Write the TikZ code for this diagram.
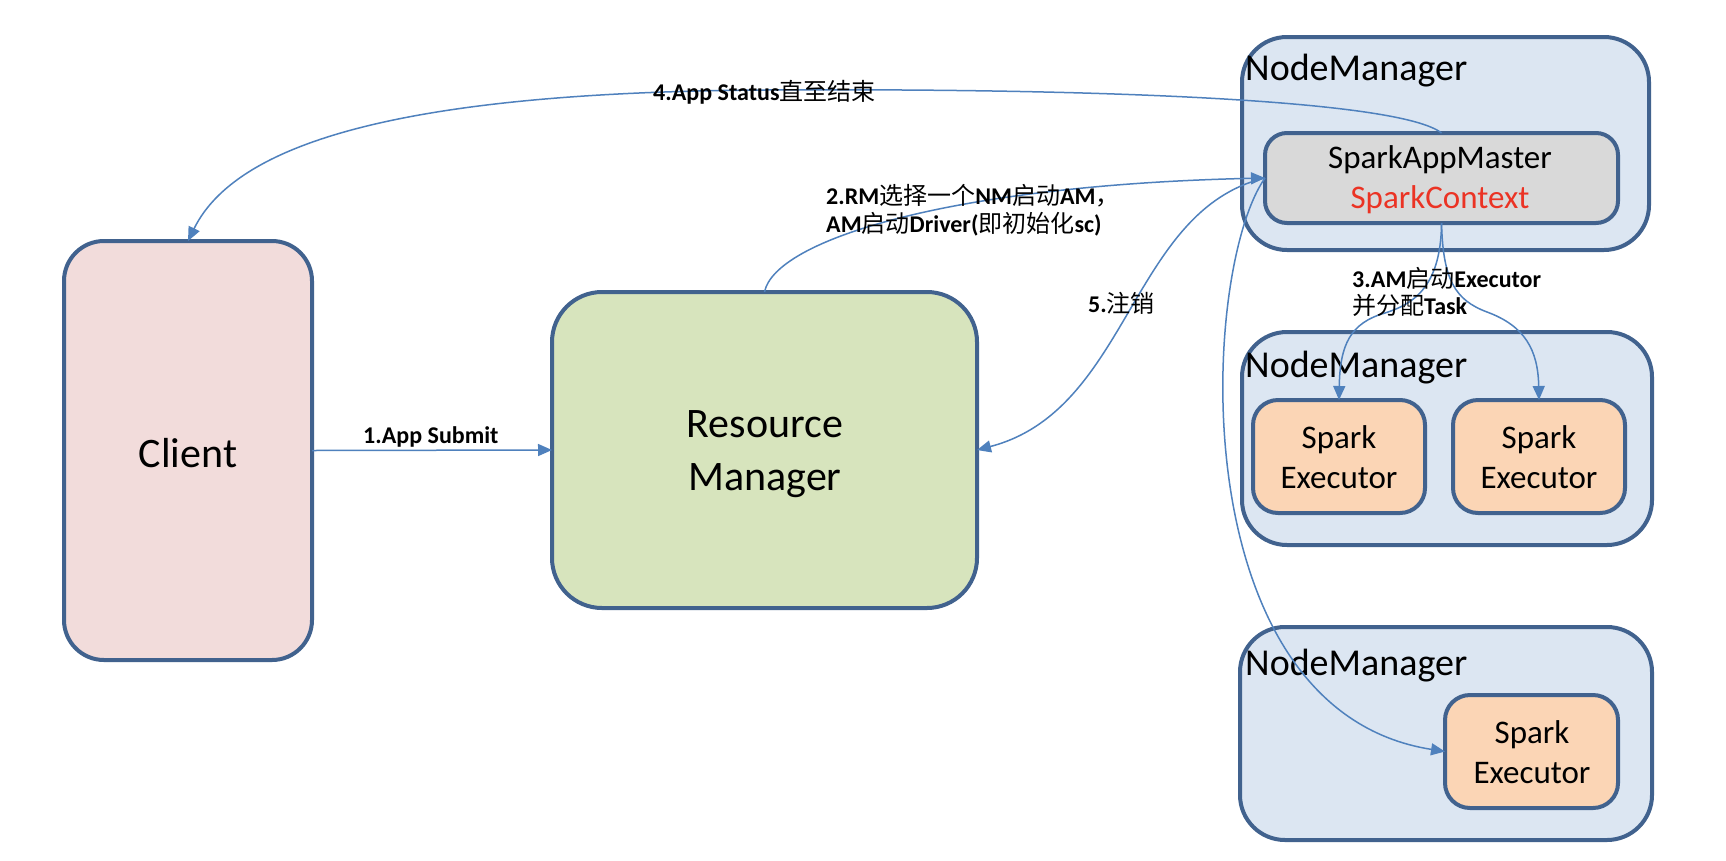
\documentclass[tikz,border=0pt]{standalone}
\usepackage{fontspec}
\setmainfont{Carlito}
\newfontfamily\cjk{Noto Sans CJK SC}
\usetikzlibrary{arrows.meta}
\definecolor{bordc}{HTML}{41628E}
\definecolor{arrc}{HTML}{4F81BD}
\definecolor{clientfill}{HTML}{F2DCDB}
\definecolor{rmfill}{HTML}{D7E4BD}
\definecolor{nmfill}{HTML}{DCE6F2}
\definecolor{samfill}{HTML}{D9D9D9}
\definecolor{execfill}{HTML}{FBD5B5}
\definecolor{ctxred}{HTML}{EB3324}
\newcommand{\zh}[1]{{\cjk #1}}
\begin{document}
\begin{tikzpicture}[x=1pt,y=-1pt,
  boxbase/.style={draw=bordc, line width=4pt, inner sep=0pt, outer sep=0pt},
  conn/.style={draw=arrc, line width=1.5pt, -{Triangle[length=14pt,width=12pt]}},
  lbl/.style={font=\fontsize{24}{28}\selectfont, inner sep=0pt, anchor=base west},
  nmtitle/.style={font=\fontsize{38}{44}\selectfont, inner sep=0pt, anchor=base west},
  bigtxt/.style={font=\fontsize{42}{53}\selectfont, inner sep=0pt, anchor=base},
  midtxt/.style={font=\fontsize{33}{40}\selectfont, inner sep=0pt, anchor=base},
]
\useasboundingbox (0,0) rectangle (1726,860);
\fill[white] (0,0) rectangle (1726,860);

% boxes
\node[boxbase, fill=clientfill, rounded corners=40pt, minimum width=248pt, minimum height=419pt] (client) at (188,450.5) {};
\node[boxbase, fill=rmfill, rounded corners=50pt, minimum width=425pt, minimum height=316pt] (rm) at (764.5,450) {};
\node[boxbase, fill=nmfill, rounded corners=45pt, minimum width=407pt, minimum height=213pt] (nm1) at (1445.5,143.5) {};
\node[boxbase, fill=samfill, rounded corners=22pt, minimum width=353pt, minimum height=90pt] (sam) at (1441.5,178) {};
\node[boxbase, fill=nmfill, rounded corners=45pt, minimum width=410pt, minimum height=213pt] (nm2) at (1447,438.5) {};
\node[boxbase, fill=execfill, rounded corners=25pt, minimum width=172pt, minimum height=113pt] (exec1) at (1339,456.5) {};
\node[boxbase, fill=execfill, rounded corners=25pt, minimum width=172pt, minimum height=113pt] (exec2) at (1539,456.5) {};
\node[boxbase, fill=nmfill, rounded corners=45pt, minimum width=412pt, minimum height=213pt] (nm3) at (1446,733.5) {};
\node[boxbase, fill=execfill, rounded corners=25pt, minimum width=173pt, minimum height=113pt] (exec3) at (1531.5,751.5) {};

% box texts
\node[bigtxt] (clienttxt) at (188,467) {Client};
\node[bigtxt] (rmtxta) at (765,437) {Resource};
\node[bigtxt] (rmtxtb) at (765,490) {Manager};
\node[nmtitle] (nm1title) at (1245,80) {NodeManager};
\node[nmtitle] (nm2title) at (1245,377) {NodeManager};
\node[nmtitle] (nm3title) at (1245,675) {NodeManager};
\node[midtxt] (samtxta) at (1440,168) {SparkAppMaster};
\node[midtxt, text=ctxred] (samtxtb) at (1440,208) {SparkContext};
\node[midtxt] (e1a) at (1339,448) {Spark};
\node[midtxt] (e1b) at (1339,488) {Executor};
\node[midtxt] (e2a) at (1539,448) {Spark};
\node[midtxt] (e2b) at (1539,488) {Executor};
\node[midtxt] (e3a) at (1532,743) {Spark};
\node[midtxt] (e3b) at (1532,783) {Executor};

% connectors
\draw[conn] (client.east) -- (rm.west);
\draw[conn] (rm.north) .. controls (775,240) and (950,185) .. (sam.west);
\draw[conn] (sam.west) .. controls (1130,210) and (1130,410) .. (rm.east);
\draw[conn] (sam.west) .. controls (1200,270) and (1180,710) .. (exec3.west);
\coordinate (top4) at (765,90);
\draw[conn] (sam.north) .. controls (1400,100) and (1100,88) .. (top4) .. controls (430,92) and (240,135) .. (client.north);
\coordinate (split3l) at (1385,313);
\coordinate (split3r) at (1487,312);
\draw[conn] (sam.south) .. controls (1441,290) and (1410,305) .. (split3l) .. controls (1350,323) and (1340,345) .. (exec1.north);
\draw[conn] (sam.south) .. controls (1443,280) and (1455,300) .. (split3r) .. controls (1525,326) and (1538,350) .. (exec2.north);

% labels
\node[lbl] (l1) at (363,443) {\textbf{1.App Submit}};
\node[lbl] (l2a) at (826,204) {\textbf{2.RM}\zh{选择一个}\textbf{NM}\zh{启动}\textbf{AM}\zh{，}};
\node[lbl] (l2b) at (826,232) {\textbf{AM}\zh{启动}\textbf{Driver(}\zh{即初始化}\textbf{sc)}};
\node[lbl] (l3a) at (1352,287) {\textbf{3.AM}\zh{启动}\textbf{Executor}};
\node[lbl] (l3b) at (1352,314) {\zh{并分配}\textbf{Task}};
\node[lbl] (l4) at (653,100) {\textbf{4.App Status}\zh{直至结束}};
\node[lbl] (l5) at (1088,312) {\textbf{5.}\zh{注销}};
\end{tikzpicture}
\end{document}
